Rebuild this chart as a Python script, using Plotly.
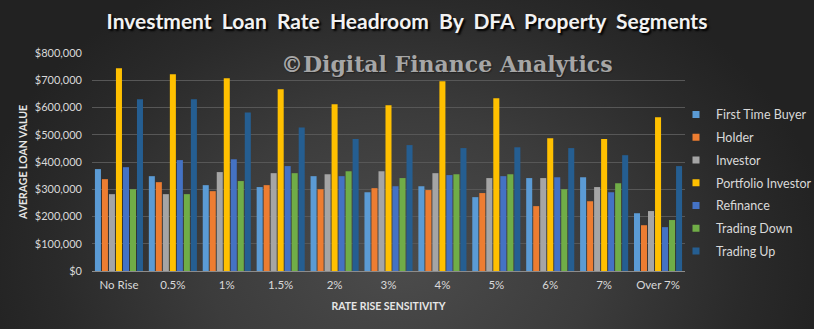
import base64
import plotly.graph_objects as go

# Rate-rise scenarios (categories on the x axis)
rate_rises = ["No Rise", "0.5%", "1%", "1.5%", "2%", "3%", "4%", "5%", "6%", "7%", "Over 7%"]

# Average loan value per segment for each rate-rise scenario
first_time_buyer = [374000, 348000, 315000, 308000, 348000, 289000, 311000, 271000, 341000, 344000, 212000]
holder = [337000, 326000, 293000, 315000, 300000, 304000, 297000, 286000, 238000, 256000, 168000]
investor = [282000, 282000, 363000, 359000, 355000, 366000, 359000, 341000, 341000, 308000, 220000]
portfolio_investor = [744000, 722000, 707000, 667000, 612000, 608000, 696000, 634000, 487000, 484000, 564000]
refinance = [381000, 407000, 410000, 385000, 348000, 311000, 352000, 348000, 344000, 289000, 161000]
trading_down = [300000, 282000, 330000, 359000, 366000, 341000, 355000, 355000, 300000, 322000, 187000]
trading_up = [630000, 630000, 582000, 527000, 484000, 462000, 451000, 454000, 451000, 425000, 385000]

y_ticks = [0, 100000, 200000, 300000, 400000, 500000, 600000, 700000, 800000]
y_tick_labels = ["$0", "$100,000", "$200,000", "$300,000", "$400,000",
                 "$500,000", "$600,000", "$700,000", "$800,000"]

series = [
    ("First Time Buyer", first_time_buyer, "#5B9BD5"),
    ("Holder", holder, "#ED7D31"),
    ("Investor", investor, "#A5A5A5"),
    ("Portfolio Investor", portfolio_investor, "#FFC000"),
    ("Refinance", refinance, "#4472C4"),
    ("Trading Down", trading_down, "#70AD47"),
    ("Trading Up", trading_up, "#255E91"),
]

W, H = 814, 329
ML, MR, MT, MB = 92, 129, 53, 58

fig = go.Figure()
for name, vals, color in series:
    fig.add_trace(go.Bar(x=rate_rises, y=vals, name=name, marker_color=color,
                         marker_line_width=0, showlegend=False))
# small square legend keys
for i, (name, vals, color) in enumerate(series):
    fig.add_trace(go.Scatter(x=[None], y=[None], mode="markers", name=name,
                             legendgroup=f"g{i}",
                             marker=dict(symbol="square", size=7, color=color)))

# dark radial-gradient backdrop, lightest toward the lower middle
svg = f'''<svg xmlns="http://www.w3.org/2000/svg" width="{W}" height="{H}">
<defs><radialGradient id="g" gradientUnits="userSpaceOnUse" cx="400" cy="260" r="430"
 gradientTransform="translate(400 260) scale(1 0.75) translate(-400 -260)">
<stop offset="0" stop-color="#4c4c4c"/><stop offset="0.45" stop-color="#3c3c3c"/>
<stop offset="0.8" stop-color="#2a2a2a"/><stop offset="1" stop-color="#222222"/>
</radialGradient></defs><rect width="{W}" height="{H}" fill="url(#g)"/></svg>'''
src = "data:image/svg+xml;base64," + base64.b64encode(svg.encode()).decode()
pw, ph = W - ML - MR, H - MT - MB
fig.add_layout_image(dict(source=src, xref="paper", yref="paper",
                          x=-ML / pw, y=1 + MT / ph, sizex=W / pw, sizey=H / ph,
                          xanchor="left", yanchor="top", sizing="stretch", layer="below"))

fig.update_layout(
    width=W, height=H,
    margin=dict(l=ML, r=MR, t=MT, b=MB, autoexpand=False),
    paper_bgcolor="#2b2b2b", plot_bgcolor="rgba(0,0,0,0)",
    barmode="group", bargap=0.09, bargroupgap=0.14,
    font=dict(family="Lato", size=11, color="#d9d9d9"),
    title=dict(text="Investment  Loan  Rate  Headroom  By  DFA  Property  Segments",
               x=0.5, xref="container", xanchor="center", y=1 - 22 / H, yanchor="middle",
               font=dict(family="Lato", size=21, color="#f2f2f2", weight="bold",
                         shadow="2px 2px 2px #000000")),
    legend=dict(x=(676 - ML) / pw, y=0.785, xanchor="left", yanchor="top",
                font=dict(size=12.5, color="#d9d9d9"), tracegroupgap=3.5,
                itemwidth=30, bgcolor="rgba(0,0,0,0)"),
    xaxis=dict(showgrid=False, showline=True, linecolor="#8c8c8c", linewidth=1,
               ticks="", ticklabelstandoff=3, tickfont=dict(size=11.5, color="#d9d9d9"),
               title=dict(text="RATE RISE SENSITIVITY", standoff=12,
                          font=dict(size=10.5, color="#e6e6e6", weight="bold"))),
    yaxis=dict(range=[0, 800000], tickvals=y_ticks, ticktext=y_tick_labels,
               showgrid=True, gridcolor="#575757", gridwidth=1, zeroline=False,
               tickfont=dict(size=11, color="#d9d9d9"), ticks="", ticklabelstandoff=9,
               title=dict(text="AVERAGE LOAN VALUE", standoff=5,
                          font=dict(size=10.5, color="#e6e6e6", weight="bold"))),
)

fig.add_annotation(text="©Digital Finance Analytics", xref="paper", yref="paper",
                   x=(447 - ML) / pw, y=1 - (64 - MT) / ph, showarrow=False,
                   xanchor="center", yanchor="middle",
                   font=dict(family="DejaVu Serif", size=22, color="#a6a6a6", weight="bold",
                             shadow="1px 1px 1px #222222"))

fig.write_html("out.html")
